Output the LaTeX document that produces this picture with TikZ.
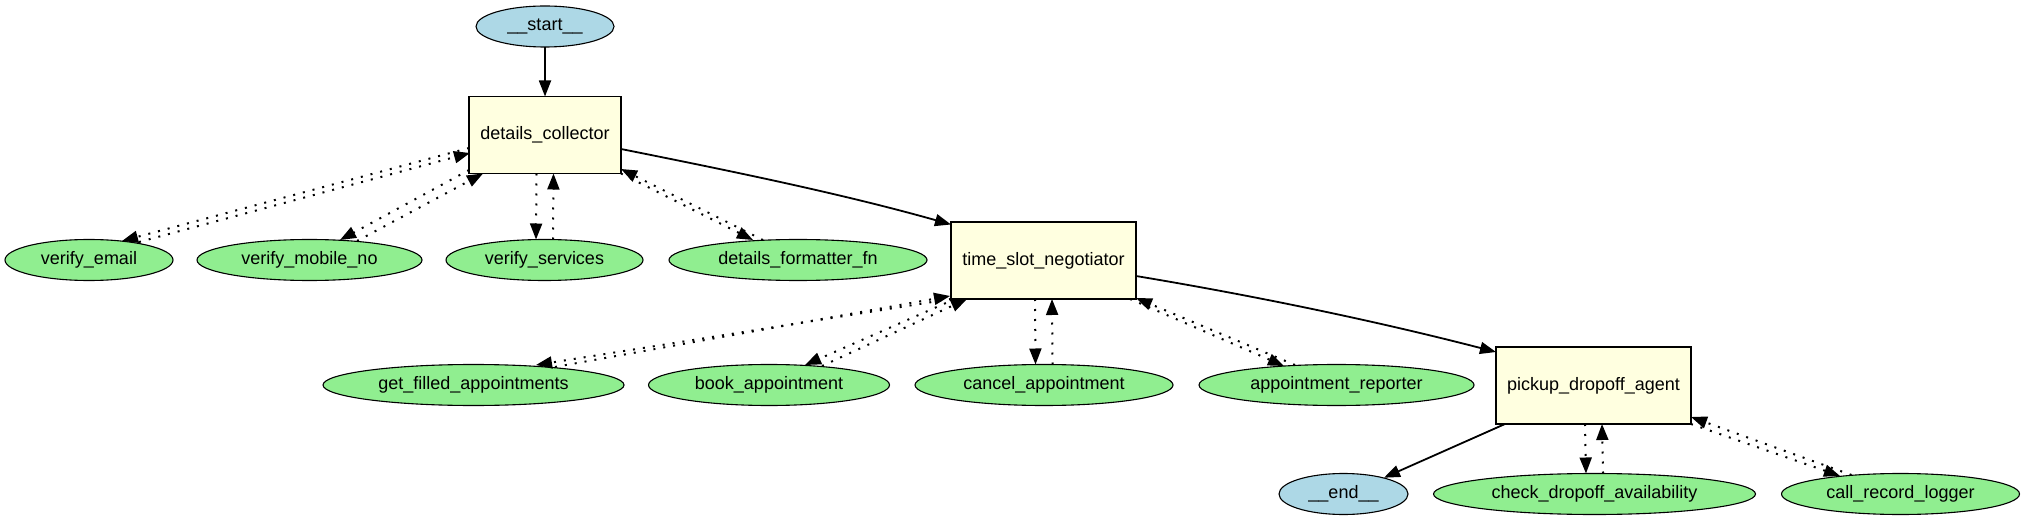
\documentclass[tikz,border=0pt]{standalone}
\usepackage{fontspec}
\setmainfont{Liberation Sans}
\usetikzlibrary{arrows.meta,shapes.geometric,calc}
\definecolor{lblue}{HTML}{ADD8E6}
\definecolor{lgreen}{HTML}{90EE90}
\definecolor{lyellow}{HTML}{FFFFE0}
\begin{document}
\begin{tikzpicture}[x=1pt,y=-1pt,
  lbl/.style={font=\fontsize{18pt}{21pt}\selectfont, text=black},
  agentbox/.style={lbl, rectangle, draw=black, line width=1.1pt, fill=lyellow, minimum height=77pt, inner sep=0pt, outer sep=0pt},
  toolell/.style={lbl, ellipse, draw=black, line width=1.1pt, fill=lgreen, minimum height=41pt, inner sep=0pt, outer sep=0pt},
  termell/.style={toolell, fill=lblue},
  flow/.style={line width=1.8pt, -{Triangle[length=16pt,width=12pt]}},
  call/.style={flow, line width=2pt, dash pattern=on 2pt off 8pt},
]
\useasboundingbox (0,0) rectangle (2026,521);

% nodes
\node[termell, minimum width=138pt] (st) at (545,26.5) {\_\_start\_\_};
\node[agentbox, minimum width=152pt] (dc) at (545,135) {details\_collector};
\node[toolell, minimum width=168pt] (ve) at (89,260) {verify\_email};
\node[toolell, minimum width=225pt] (vm) at (309.5,260) {verify\_mobile\_no};
\node[toolell, minimum width=197pt] (vs) at (544.5,260) {verify\_services};
\node[toolell, minimum width=258pt] (df) at (798,260) {details\_formatter\_fn};
\node[agentbox, minimum width=185pt] (ts) at (1043.5,260.5) {time\_slot\_negotiator};
\node[toolell, minimum width=301pt] (gf) at (473.5,385) {get\_filled\_appointments};
\node[toolell, minimum width=241pt] (ba) at (769,385) {book\_appointment};
\node[toolell, minimum width=258pt] (ca) at (1044,385) {cancel\_appointment};
\node[toolell, minimum width=275pt] (ar) at (1336.5,385) {appointment\_reporter};
\node[agentbox, minimum width=195pt] (pd) at (1593.5,385.5) {pickup\_dropoff\_agent};
\node[termell, minimum width=129pt] (en) at (1343.5,494) {\_\_end\_\_};
\node[toolell, minimum width=322pt] (cd) at (1594.5,494) {check\_dropoff\_availability};
\node[toolell, minimum width=238pt] (cr) at (1900.5,494) {call\_record\_logger};

% main flow
\draw[flow] (st.south) -- (dc.north);
\draw[flow] ($(dc.center)+(76,14)$) .. controls +(110,22) and +(-110,-31) .. ($(ts.center)+(-92.5,-36)$);
\draw[flow] ($(ts.center)+(92.5,15.5)$) .. controls +(120,20) and +(-120,-31) .. ($(pd.center)+(-97.5,-33.5)$);
\draw[flow] ($(pd.center)+(-88.5,38.5)$) -- ($(en.center)+(40.5,-16.3)$);

% details_collector tools
\draw[call] ($(dc.center)+(-76,13)$) -- ($(ve.center)+(33,-19)$);
\draw[call] ($(ve.center)+(50,-18)$) -- ($(dc.center)+(-75,18)$);
\draw[call] ($(dc.center)+(-76,35)$) -- ($(vm.center)+(30.5,-20)$);
\draw[call] ($(vm.center)+(47.5,-19)$) -- ($(dc.center)+(-62,38.5)$);
\draw[call] ($(dc.south)+(-8.5,0)$) -- ($(vs.north)+(-8.5,0)$);
\draw[call] ($(vs.north)+(8.5,0)$) -- ($(dc.south)+(8.5,0)$);
\draw[call] ($(dc.center)+(76,38.5)$) -- ($(df.center)+(-45,-20)$);
\draw[call] ($(df.center)+(-35,-20)$) -- ($(dc.center)+(76,34)$);

% time_slot_negotiator tools
\draw[call] ($(ts.center)+(-92.5,38.5)$) -- ($(gf.center)+(62.5,-20)$);
\draw[call] ($(gf.center)+(81.5,-18)$) -- ($(ts.center)+(-93.5,35.5)$);
\draw[call] ($(ts.center)+(-88.5,38.5)$) -- ($(ba.center)+(36,-20)$);
\draw[call] ($(ba.center)+(53,-19)$) -- ($(ts.center)+(-76.5,38.5)$);
\draw[call] ($(ts.south)+(-8.5,0)$) -- ($(ca.north)+(-8.5,0)$);
\draw[call] ($(ca.north)+(8.5,0)$) -- ($(ts.south)+(8.5,0)$);
\draw[call] ($(ts.center)+(86.5,38.5)$) -- ($(ar.center)+(-52.5,-19)$);
\draw[call] ($(ar.center)+(-41.5,-20)$) -- ($(ts.center)+(92.5,37.5)$);

% pickup_dropoff_agent tools
\draw[call] ($(pd.south)+(-8.5,0)$) -- ($(cd.north)+(-8.5,0)$);
\draw[call] ($(cd.north)+(8.5,0)$) -- ($(pd.south)+(8.5,0)$);
\draw[call] ($(pd.center)+(97.5,38.5)$) -- ($(cr.center)+(-60.5,-18)$);
\draw[call] ($(cr.center)+(-49,-19)$) -- ($(pd.center)+(97.5,31.5)$);
\end{tikzpicture}
\end{document}
